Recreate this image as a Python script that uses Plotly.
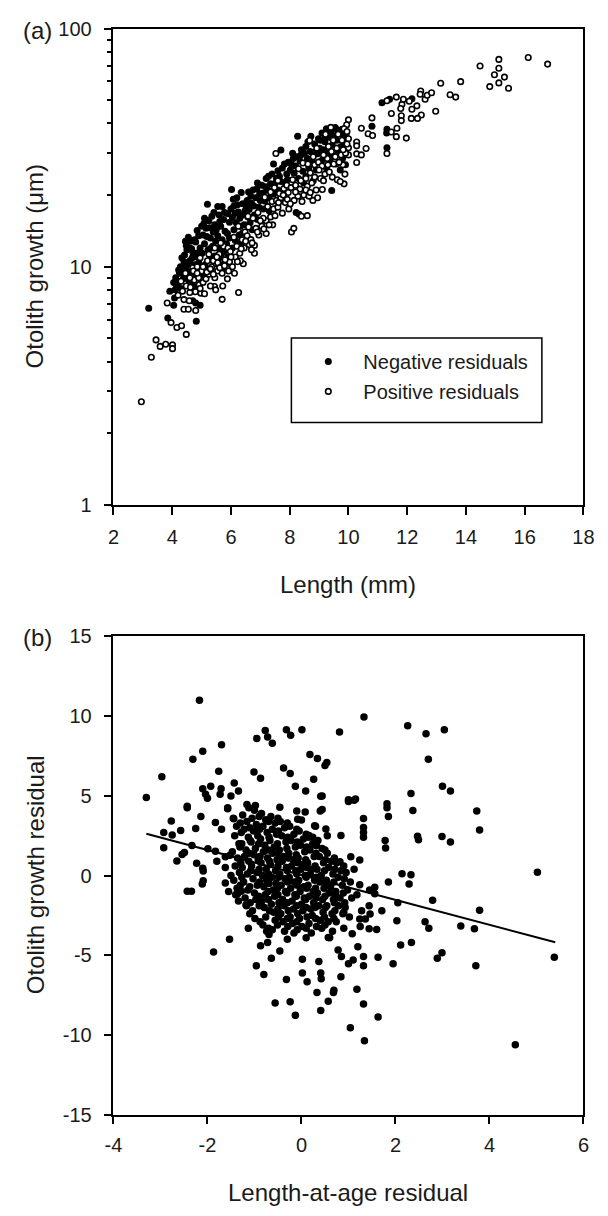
import plotly.graph_objects as go

# ---------------- Panel (a): otolith growth vs length ----------------
neg_points = [
    (3.2, 6.7), (3.85, 6.1), (3.92, 7.9), (4.05, 6.9), (4.08, 7.4), (4.1, 8.0), (4.05, 8.6), (4.12, 9.0),
    (4.2, 8.5), (4.25, 9.4), (4.3, 8.1), (4.35, 9.8), (4.4, 10.5), (4.45, 9.1), (4.15, 8.3), (4.28, 10.0),
    (4.42, 11.2), (4.48, 12.3), (4.38, 8.9), (4.45, 12.8), (4.33, 10.9), (4.22, 9.7), (4.47, 9.9),
    (4.55, 13.3), (4.6, 12.0), (4.7, 11.5), (4.8, 12.7), (4.9, 13.5), (4.6, 10.6), (4.75, 10.2), (4.85, 11.0),
    (4.95, 12.0), (4.65, 9.5), (4.8, 9.3), (4.9, 10.4), (4.58, 8.7), (4.7, 7.2), (4.82, 5.9), (4.95, 6.9),
    (4.8, 7.05), (4.85, 14.2), (5.0, 14.8), (4.72, 8.3), (4.98, 8.8), (4.66, 11.9), (4.88, 8.0),
    (5.2, 18.3), (5.1, 16.0), (5.25, 15.6), (5.35, 16.3), (5.45, 15.0), (5.05, 13.6), (5.15, 14.5), (5.3, 13.2),
    (5.4, 14.0), (5.48, 12.8), (5.1, 12.5), (5.22, 11.8), (5.38, 12.2), (5.02, 11.4), (5.3, 10.8), (5.45, 11.1),
    (5.12, 10.2), (5.2, 9.7), (5.06, 9.1), (5.34, 9.5),
    (5.55, 17.9), (5.7, 17.9), (5.6, 16.5), (5.75, 15.8), (5.9, 16.7), (5.65, 14.8), (5.8, 14.1), (5.95, 15.4),
    (5.55, 13.5), (5.7, 13.0), (5.85, 12.5), (5.6, 12.0), (5.75, 11.5), (5.9, 11.0), (5.58, 10.8), (5.95, 13.2),
    (5.8, 9.9), (5.68, 10.2),
    (6.02, 21.1), (6.2, 19.5), (6.35, 20.5), (6.1, 18.0), (6.25, 17.0), (6.4, 18.4), (6.05, 16.1), (6.18, 15.3),
    (6.3, 16.0), (6.45, 15.0), (6.1, 14.3), (6.28, 13.6), (6.4, 13.9), (6.15, 12.9), (6.35, 12.5), (6.05, 12.0),
    (6.48, 17.2),
    (6.6, 20.6), (6.75, 21.0), (6.9, 22.5), (6.55, 19.0), (6.7, 18.5), (6.85, 19.5), (6.62, 17.4), (6.8, 16.5),
    (6.95, 17.8), (6.65, 15.3), (6.9, 15.8), (6.72, 14.3), (6.98, 20.3),
    (7.05, 22.0), (7.2, 23.5), (7.35, 22.3), (7.1, 20.4), (7.25, 21.0), (7.4, 24.5), (7.15, 18.9), (7.3, 19.5),
    (7.45, 20.2), (7.1, 17.5), (7.3, 17.2), (7.45, 27.0),
    (7.7, 30.9), (7.6, 25.3), (7.75, 26.0), (7.9, 24.5), (7.55, 23.5), (7.7, 22.8), (7.85, 22.5), (7.6, 21.0),
    (7.95, 27.5), (7.8, 20.3),
    (8.27, 35.3), (8.1, 30.0), (8.25, 29.0), (8.4, 31.0), (8.05, 27.0), (8.2, 26.5), (8.35, 27.8), (8.15, 24.7),
    (8.45, 25.2), (8.3, 23.5), (8.22, 16.9), (8.32, 16.6), (8.48, 22.5),
    (8.72, 35.3), (8.55, 32.0), (8.7, 30.5), (8.85, 32.8), (8.6, 28.5), (8.78, 27.5), (8.95, 29.8), (8.65, 26.0),
    (8.9, 25.5), (8.55, 24.0), (8.8, 23.0),
    (9.43, 20.9), (9.1, 36.5), (9.25, 38.0), (9.4, 37.0), (9.05, 34.0), (9.2, 33.5), (9.35, 35.0), (9.15, 31.0),
    (9.3, 30.0), (9.45, 32.5), (9.1, 28.0), (9.38, 27.5), (9.25, 26.0), (9.48, 29.0),
    (9.55, 38.5), (9.7, 36.5), (9.85, 35.5), (9.6, 34.0), (9.75, 32.0), (9.9, 33.0), (9.65, 30.0), (9.8, 28.5),
    (9.58, 27.0), (9.72, 25.5), (9.9, 26.8),
    (10.8, 38.9), (11.31, 37.8), (11.31, 31.6), (11.14, 48.9), (11.4, 50.5), (12.16, 50.8), (11.3, 36.5),
    (4.5, 11.8), (4.62, 12.8), (4.76, 13.0), (4.52, 10.2), (4.68, 10.9), (4.92, 11.5), (4.55, 9.3), (4.78, 11.4),
    (5.08, 15.2), (5.18, 13.4), (5.28, 14.6), (5.42, 16.9), (5.32, 12.0), (5.5, 14.3), (5.62, 15.5), (5.78, 16.9),
    (5.88, 13.8), (5.66, 11.2), (6.0, 17.5), (6.08, 19.2), (6.22, 18.2), (6.15, 16.8), (6.32, 14.8), (6.42, 16.5),
    (6.52, 18.0), (6.68, 19.8), (6.78, 18.0), (6.88, 21.2), (6.58, 16.2), (7.0, 19.0), (7.18, 21.7), (7.28, 24.0),
    (7.38, 20.8), (7.5, 22.4), (7.65, 24.0), (7.82, 27.0), (7.92, 23.2), (8.02, 25.5), (8.12, 28.5), (8.38, 29.5),
    (8.5, 30.0), (8.62, 33.5), (8.88, 30.5), (8.98, 34.5), (9.02, 31.5), (9.18, 34.5), (9.32, 36.8), (9.5, 35.5),
    (9.62, 37.5), (9.78, 37.8), (9.92, 36.0),
]

pos_points = [
    (2.95, 2.71), (3.29, 4.17), (3.45, 4.93), (3.59, 4.63), (3.78, 4.73), (4.01, 4.7), (4.01, 4.53), (3.96, 5.83),
    (4.16, 5.56), (4.32, 5.65), (4.48, 5.2), (3.83, 7.05), (4.4, 6.63), (4.55, 6.63), (4.8, 6.55), (4.4, 7.28),
    (4.58, 7.2), (4.79, 7.85), (5.44, 8.26), (5.7, 7.3), (6.26, 7.8),
    (4.2, 7.6), (4.35, 7.9), (4.48, 8.3), (4.3, 8.7), (4.45, 9.4), (4.6, 7.8), (4.75, 8.8), (4.9, 9.0),
    (5.0, 9.6), (4.7, 9.9), (4.85, 10.0), (4.95, 10.9), (4.62, 8.2), (4.92, 8.4), (4.98, 7.75),
    (5.05, 8.6), (5.15, 8.9), (5.25, 9.3), (5.35, 10.0), (5.45, 9.0), (5.5, 10.3), (5.2, 10.6), (5.4, 10.6),
    (5.1, 7.7), (5.3, 8.3), (5.48, 8.0), (5.25, 11.3), (5.45, 12.0),
    (5.55, 9.6), (5.7, 9.4), (5.85, 9.9), (5.95, 10.5), (5.6, 11.3), (5.75, 12.2), (5.9, 12.0), (5.65, 12.6),
    (5.8, 10.7), (5.98, 11.6), (5.52, 11.0), (5.88, 8.9), (5.72, 8.3),
    (6.05, 10.0), (6.15, 11.0), (6.3, 11.4), (6.42, 10.3), (6.2, 12.2), (6.45, 12.0), (6.1, 13.3), (6.38, 13.0),
    (6.25, 14.8), (6.48, 14.0), (6.12, 9.4), (6.32, 10.6),
    (6.8, 11.4), (6.55, 13.5), (6.68, 13.0), (6.8, 12.3), (6.95, 13.6), (6.6, 14.7), (6.85, 14.5), (6.75, 16.0),
    (6.92, 16.9), (6.58, 16.3), (6.7, 11.8), (6.62, 12.4),
    (7.05, 14.8), (7.2, 15.6), (7.35, 16.2), (7.45, 17.5), (7.1, 16.0), (7.25, 17.9), (7.4, 18.8), (7.15, 19.6),
    (7.35, 20.6), (7.48, 21.5), (7.2, 13.8), (7.42, 15.0),
    (7.53, 29.9), (7.55, 19.0), (7.7, 19.5), (7.85, 18.6), (7.95, 20.5), (7.65, 20.3), (7.8, 21.3), (7.6, 17.8),
    (7.9, 22.0), (7.75, 16.8), (7.97, 17.5), (7.6, 23.0),
    (8.06, 14.0), (8.14, 14.5), (8.4, 16.3), (8.6, 16.4), (8.05, 21.5), (8.2, 22.0), (8.35, 21.2), (8.48, 20.0),
    (8.1, 23.2), (8.3, 25.8), (8.45, 27.3), (8.28, 19.8), (8.42, 18.8), (8.15, 19.0),
    (8.68, 33.9), (8.79, 19.0), (8.66, 19.8), (8.95, 19.5), (8.6, 21.8), (8.75, 22.5), (8.9, 21.0), (8.55, 23.5),
    (8.7, 24.8), (8.85, 26.8), (8.98, 27.5), (8.62, 27.0), (8.8, 29.0), (8.92, 31.5),
    (9.11, 21.1), (9.05, 23.5), (9.2, 24.5), (9.35, 25.0), (9.45, 23.8), (9.1, 26.5), (9.28, 28.5), (9.42, 30.5),
    (9.15, 29.5), (9.32, 32.0), (9.48, 34.0), (9.22, 36.0), (9.4, 38.5),
    (10.0, 41.4), (9.94, 39.5), (9.85, 38.0), (10.0, 34.5), (10.0, 31.6), (10.0, 29.5), (9.81, 26.8), (9.62, 23.2),
    (9.85, 22.3), (9.72, 22.8), (9.6, 31.5), (9.75, 29.5), (9.9, 30.0), (9.65, 36.0), (9.78, 34.0), (9.95, 37.0),
    (9.55, 29.0), (9.88, 24.5),
    (10.44, 38.2), (10.67, 36.2), (10.82, 35.6), (11.46, 36.8), (11.65, 38.2), (11.63, 35.2), (11.97, 34.7),
    (10.28, 33.4), (10.28, 32.2), (10.28, 29.8), (10.44, 29.5), (10.6, 31.4), (10.28, 27.4), (11.31, 29.9),
    (10.8, 42.2), (11.31, 49.8), (11.46, 44.0), (11.63, 51.6), (11.82, 48.1), (11.78, 46.2), (12.16, 45.9),
    (12.33, 47.4), (12.48, 43.4), (12.35, 42.0), (12.14, 42.0), (11.8, 43.1), (11.8, 41.1), (11.87, 50.5),
    (12.07, 49.6), (12.46, 54.7), (12.61, 50.5), (12.44, 53.0), (12.68, 52.5), (12.83, 53.8), (12.97, 45.0),
    (13.14, 59.0), (13.46, 52.8), (13.65, 51.6), (13.82, 59.9), (14.48, 69.7), (14.81, 57.1), (15.12, 59.2),
    (15.31, 62.6), (14.97, 64.0), (15.12, 68.2), (15.12, 74.3), (15.45, 56.2), (16.12, 75.7), (16.78, 71.0),
    (4.6, 9.0), (4.72, 9.6), (4.85, 9.4), (4.95, 8.1), (5.05, 10.0), (5.18, 9.5), (5.3, 9.8), (5.4, 9.3),
    (5.55, 10.4), (5.62, 9.9), (5.78, 10.1), (5.92, 9.6), (6.0, 11.0), (6.22, 10.5), (6.35, 11.9), (6.5, 12.8),
    (6.72, 12.6), (6.9, 14.0), (7.0, 15.6), (7.12, 14.4), (7.3, 15.0), (7.5, 16.4), (7.62, 18.6), (7.78, 20.0),
    (7.92, 19.2), (8.02, 18.4), (8.2, 20.6), (8.38, 23.0), (8.55, 21.0), (8.7, 20.5), (8.85, 23.8), (9.0, 25.5),
    (9.15, 23.0), (9.3, 26.8), (9.5, 27.0), (9.68, 27.5), (9.82, 31.0), (9.95, 32.8),
]

neg_len = [p[0] for p in neg_points]
neg_growth = [p[1] for p in neg_points]
pos_len = [p[0] for p in pos_points]
pos_growth = [p[1] for p in pos_points]

# ---------------- Panel (b): residual vs residual ----------------
resid_points = [
    # sparse upper points
    (-2.17, 11.0), (1.33, 9.95), (2.26, 9.4), (2.65, 8.9), (3.04, 9.15), (2.7, 7.3), (3.0, 5.6), (3.17, 5.3),
    (2.33, 5.15), (0.81, 9.0), (0.01, 9.15), (-0.32, 9.15), (-0.23, 8.8), (-0.77, 9.1), (-0.95, 8.6),
    (-0.72, 8.7), (-0.62, 8.3), (-1.70, 8.2), (-2.1, 7.8), (-2.31, 7.3), (-2.97, 6.2), (-3.30, 4.9),
    (-1.76, 6.55), (-1.01, 6.5), (-0.87, 6.1), (-0.38, 6.75), (-0.24, 6.4), (0.18, 7.6), (0.34, 7.35),
    (0.54, 7.1), (0.5, 6.9), (0.26, 6.05), (-0.13, 5.6), (0.09, 5.3), (0.44, 5.0), (-1.43, 5.8), (-1.34, 5.3),
    (-1.5, 5.0), (-1.71, 5.45), (-1.73, 5.1), (-1.93, 5.6), (-2.1, 5.45), (-2.04, 5.1), (-2.0, 4.85),
    (1.0, 4.65), (1.15, 4.8), (1.82, 4.5),
    # sparse mid / lower points
    (-2.93, 2.71), (-2.75, 2.55), (-2.93, 1.75), (-2.77, 3.43), (-2.43, 4.25), (-2.57, 2.82), (-2.14, 3.7),
    (-2.25, 2.96), (-1.83, 3.33), (-1.57, 4.19), (-1.44, 3.57), (-2.33, 1.89), (-2.54, 1.32), (-2.49, 1.44),
    (-2.65, 0.91), (-2.23, 0.77), (-2.1, 0.46), (-2.09, 0.29), (-2.09, -0.32), (-2.11, -0.53), (-2.43, -0.98),
    (-2.34, -0.98), (-1.99, 1.69), (-1.83, 1.52), (-1.62, 1.18), (-1.52, 1.28), (-1.62, -0.47), (-1.5, 0.0),
    (-1.36, -1.14), (-1.28, -0.98), (-1.53, -3.99), (-1.87, -4.79), (-1.13, -3.3), (-1.18, -1.84),
    (-0.96, -5.66), (-0.8, -6.21), (-0.87, -4.4), (-0.72, -4.2), (-0.64, -5.18), (-0.74, -3.5), (-0.46, -4.73),
    (-0.56, -8.0), (-0.32, -6.52), (-0.24, -7.91), (-0.13, -8.77), (0.02, -6.11), (0.02, -5.25), (0.12, -6.66),
    (0.33, -7.34), (0.41, -8.47), (0.37, -5.39), (0.41, -6.11), (0.42, -6.48), (0.57, -7.89), (0.68, -7.34),
    (0.69, -7.2), (0.84, -6.35), (0.57, -3.89), (0.78, -4.67), (0.85, -5.08), (1.04, -9.55), (1.34, -10.37),
    (1.18, -7.13), (1.32, -8.06), (1.63, -8.88), (1.0, -5.53), (1.1, -5.29), (1.2, -4.47), (1.32, -5.08),
    (1.32, -5.66), (1.08, -3.65), (1.63, -5.12), (1.95, -5.53), (1.44, -3.34), (1.6, -3.38), (2.03, -2.83),
    (1.71, -2.21), (2.11, -4.36), (2.34, -4.2), (2.63, -2.89), (2.71, -3.3), (2.79, -1.55), (2.89, -5.18),
    (2.99, -4.84), (3.39, -3.17), (3.68, -3.34), (3.71, -5.66), (3.79, -2.17), (4.55, -10.62), (5.02, 0.21),
    (5.38, -5.12), (3.73, 4.05), (3.79, 2.86), (2.99, 2.45), (3.17, 2.1), (2.47, 2.47), (2.49, 2.24),
    (2.37, 4.09), (1.85, 3.7), (1.82, 4.25), (1.78, 2.2), (1.79, 1.73), (1.85, -0.4), (2.14, 0.11),
    (2.33, 0.05), (2.29, -0.53), (2.05, -1.7), (1.24, 0.97), (1.05, 1.18), (0.82, 0.87), (0.84, 2.51),
    (1.32, 3.58), (1.32, 3.02), (1.32, 2.71), (1.32, 2.4), (1.56, -0.73), (1.56, -1.14), (1.24, -0.57),
    (1.44, -1.9), (1.28, -2.21), (1.46, -2.41), (1.36, -2.72), (1.24, -2.72), (1.0, 4.76), (1.12, 4.72),
    (0.4, 4.05), (0.44, 4.15), (0.52, 2.92), (0.08, 3.99), (-0.1, 4.05), (-0.08, 3.53), (0.0, 3.49),
    (-0.46, 4.29), (-1.16, 4.46), (-1.12, 4.25), (-0.98, 4.4), (0.28, 3.12), (0.16, 2.51), (0.24, 2.41),
    (0.32, 1.89), (0.41, 4.97), (-2.43, 4.35), (-1.57, 4.25),
    (-1.7, 2.9), (-1.62, 0.5), (-1.55, -1.0), (-1.8, 0.9), (1.12, 0.4), (1.25, -3.2), (1.18, -1.2),
    (1.45, -0.9), (0.9, -3.3), (0.6, -3.9), (0.1, -3.9), (-0.3, -4.0), (0.3, 3.1), (0.55, 2.5), (-1.0, 4.1),
    # dense central cloud
    (-1.45, 3.6), (-1.38, 3.1), (-1.42, 2.5), (-1.33, 2.0), (-1.47, 1.5), (-1.36, 1.1), (-1.41, 0.6),
    (-1.32, 0.2), (-1.44, -0.3), (-1.37, -0.8), (-1.40, -1.2), (-1.34, -1.6),
    (-1.25, 3.8), (-1.16, 3.4), (-1.22, 2.9), (-1.13, 2.4), (-1.27, 2.0), (-1.18, 1.6), (-1.21, 1.2),
    (-1.12, 0.9), (-1.26, 0.5), (-1.15, 0.1), (-1.23, -0.4), (-1.14, -0.9), (-1.2, -1.4), (-1.17, -1.9),
    (-1.05, 3.6), (-0.96, 3.2), (-1.02, 2.8), (-0.93, 2.5), (-1.07, 2.1), (-0.98, 1.7), (-1.01, 1.3),
    (-0.92, 1.0), (-1.06, 0.6), (-0.95, 0.2), (-1.03, -0.2), (-0.94, -0.6), (-1.0, -1.1), (-0.97, -1.5),
    (-1.04, -2.2), (-0.99, -2.7),
    (-0.85, 3.9), (-0.76, 3.5), (-0.82, 3.1), (-0.73, 2.7), (-0.87, 2.3), (-0.78, 1.9), (-0.81, 1.5),
    (-0.72, 1.1), (-0.86, 0.8), (-0.75, 0.4), (-0.83, 0.0), (-0.74, -0.3), (-0.8, -0.7), (-0.77, -1.2),
    (-0.84, -1.6), (-0.79, -2.0), (-0.76, -2.6), (-0.82, -3.1),
    (-0.65, 3.7), (-0.56, 3.3), (-0.62, 2.9), (-0.53, 2.6), (-0.67, 2.2), (-0.58, 1.8), (-0.61, 1.4),
    (-0.52, 1.0), (-0.66, 0.7), (-0.55, 0.3), (-0.63, -0.1), (-0.54, -0.5), (-0.6, -0.9), (-0.57, -1.3),
    (-0.64, -1.8), (-0.59, -2.3), (-0.56, -2.8), (-0.62, -3.4),
    (-0.45, 3.4), (-0.36, 3.0), (-0.42, 2.5), (-0.33, 2.1), (-0.47, 1.6), (-0.38, 1.2), (-0.41, 0.9),
    (-0.32, 0.5), (-0.46, 0.1), (-0.35, -0.2), (-0.43, -0.6), (-0.34, -1.0), (-0.4, -1.5), (-0.37, -1.9),
    (-0.44, -2.4), (-0.39, -2.9), (-0.36, -3.5),
    (-0.25, 3.1), (-0.16, 2.6), (-0.22, 2.2), (-0.13, 1.8), (-0.27, 1.4), (-0.18, 1.0), (-0.21, 0.6),
    (-0.12, 0.3), (-0.26, -0.1), (-0.15, -0.4), (-0.23, -0.8), (-0.14, -1.2), (-0.2, -1.6), (-0.17, -2.1),
    (-0.24, -2.6), (-0.19, -3.0), (-0.16, -3.6),
    (-0.05, 2.8), (0.04, 2.3), (-0.02, 1.9), (0.07, 1.5), (-0.07, 1.1), (0.02, 0.7), (-0.01, 0.4),
    (0.08, 0.0), (-0.06, -0.3), (0.05, -0.7), (-0.03, -1.0), (0.06, -1.4), (0.0, -1.8), (0.03, -2.2),
    (-0.04, -2.7), (0.01, -3.2),
    (0.15, 2.4), (0.24, 2.0), (0.18, 1.6), (0.27, 1.2), (0.13, 0.8), (0.22, 0.4), (0.19, 0.1), (0.28, -0.3),
    (0.14, -0.6), (0.25, -1.0), (0.17, -1.3), (0.26, -1.7), (0.2, -2.1), (0.23, -2.5), (0.16, -3.0),
    (0.21, -3.6),
    (0.35, 2.2), (0.44, 1.7), (0.38, 1.2), (0.47, 0.8), (0.33, 0.4), (0.42, 0.0), (0.39, -0.4), (0.48, -0.8),
    (0.34, -1.1), (0.45, -1.5), (0.37, -1.9), (0.46, -2.3), (0.4, -2.8), (0.43, -3.3),
    (0.55, 1.4), (0.64, 0.9), (0.58, 0.5), (0.67, 0.1), (0.53, -0.3), (0.62, -0.7), (0.59, -1.1),
    (0.68, -1.5), (0.54, -1.9), (0.65, -2.4), (0.57, -2.9), (0.66, -3.5),
    (0.75, 0.8), (0.84, 0.3), (0.78, -0.1), (0.87, -0.6), (0.73, -1.0), (0.82, -1.4), (0.79, -1.9),
    (0.88, -2.4), (0.74, -2.9),
    (0.95, 0.2), (1.04, -0.4), (0.98, -0.9), (1.07, -1.4), (0.93, -2.0), (1.02, -2.6),
    # further fill of the dense cloud
    (-1.3, 3.3), (-1.28, 2.7), (-1.31, 1.8), (-1.29, 0.8), (-1.27, -0.1), (-1.3, -0.6),
    (-1.1, 3.0), (-1.09, 2.2), (-1.11, 1.4), (-1.08, 0.3), (-1.1, -0.7), (-1.09, -1.7), (-1.1, -2.4),
    (-0.9, 3.7), (-0.89, 2.9), (-0.91, 2.0), (-0.88, 1.2), (-0.9, 0.4), (-0.89, -0.4), (-0.91, -1.3),
    (-0.9, -1.9), (-0.88, -2.9),
    (-0.7, 3.4), (-0.69, 2.4), (-0.71, 1.6), (-0.68, 0.9), (-0.7, 0.1), (-0.69, -0.5), (-0.71, -1.0),
    (-0.7, -1.5), (-0.68, -2.2), (-0.7, -3.3), (-0.69, -3.7),
    (-0.5, 3.6), (-0.49, 2.8), (-0.51, 2.0), (-0.48, 1.3), (-0.5, 0.6), (-0.49, -0.1), (-0.51, -0.8),
    (-0.5, -1.2), (-0.48, -1.7), (-0.5, -2.1), (-0.49, -2.6), (-0.51, -3.1),
    (-0.3, 3.3), (-0.29, 2.4), (-0.31, 1.7), (-0.28, 1.1), (-0.3, 0.3), (-0.29, -0.4), (-0.31, -1.1),
    (-0.3, -1.7), (-0.28, -2.2), (-0.3, -2.7), (-0.29, -3.2),
    (-0.1, 2.9), (-0.09, 2.1), (-0.11, 1.3), (-0.08, 0.8), (-0.1, 0.1), (-0.09, -0.6), (-0.11, -1.3),
    (-0.1, -1.9), (-0.08, -2.4), (-0.1, -2.9), (-0.09, -3.4),
    (0.1, 2.6), (0.11, 1.8), (0.09, 1.0), (0.12, 0.5), (0.1, -0.1), (0.11, -0.8), (0.09, -1.5), (0.1, -2.0),
    (0.12, -2.6), (0.1, -3.3),
    (0.3, 1.9), (0.31, 1.4), (0.29, 0.6), (0.32, -0.1), (0.3, -0.8), (0.31, -1.4), (0.29, -2.0), (0.3, -2.7),
    (0.32, -3.2),
    (0.5, 1.6), (0.51, 1.0), (0.49, 0.3), (0.52, -0.5), (0.5, -1.3), (0.51, -2.0), (0.49, -2.6), (0.5, -3.1),
    (0.7, 1.1), (0.71, 0.4), (0.69, -0.4), (0.72, -1.2), (0.7, -1.7), (0.71, -2.2), (0.69, -2.7),
    (0.9, 0.6), (0.91, -0.2), (0.89, -1.1), (0.92, -1.7), (0.9, -2.3),
]
resid_len = [p[0] for p in resid_points]
resid_growth = [p[1] for p in resid_points]

fit_x = [-3.3, 5.4]
fit_y = [2.62, -4.18]

x_ticks_a = [2, 4, 6, 8, 10, 12, 14, 16, 18]
y_ticks_a = [1, 10, 100]
y_minor_a = [2, 3, 4, 5, 6, 7, 8, 9, 20, 30, 40, 50, 60, 70, 80, 90]
x_ticks_b = [-4, -2, 0, 2, 4, 6]
y_ticks_b = [-15, -10, -5, 0, 5, 10, 15]

FONT = "Liberation Sans, Arial, sans-serif"
TXT = "#1a1a1a"
W, H = 608, 1216


def px_x(p):
    return p / W


def px_y(p):
    return 1 - p / H


fig = go.Figure()

fig.add_trace(go.Scatter(
    x=neg_len, y=neg_growth, mode="markers", name="Negative residuals",
    marker=dict(symbol="circle", size=7, color="black", line=dict(width=0)),
    xaxis="x", yaxis="y", legendgroup="n",
))
fig.add_trace(go.Scatter(
    x=pos_len, y=pos_growth, mode="markers", name="Positive residuals",
    marker=dict(symbol="circle", size=5.5, color="white", line=dict(width=1.6, color="black")),
    xaxis="x", yaxis="y", legendgroup="p",
))
fig.add_trace(go.Scatter(
    x=resid_len, y=resid_growth, mode="markers", showlegend=False,
    marker=dict(symbol="circle", size=7.5, color="black", line=dict(width=0)),
    xaxis="x2", yaxis="y2",
))
fig.add_trace(go.Scatter(
    x=fit_x, y=fit_y, mode="lines", showlegend=False,
    line=dict(color="black", width=2),
    xaxis="x2", yaxis="y2",
))

axis_common = dict(
    showline=True, linecolor="black", linewidth=1.5, mirror=True,
    ticks="outside", ticklen=8, tickwidth=1.5, tickcolor="black",
    showgrid=False, zeroline=False,
    tickfont=dict(family=FONT, size=20, color=TXT),
)

xdom = [px_x(108), px_x(594)]
fig.update_layout(
    width=W, height=H,
    margin=dict(l=0, r=0, t=0, b=0),
    paper_bgcolor="white", plot_bgcolor="white",
    font=dict(family=FONT, color=TXT),
    xaxis=dict(domain=xdom, range=[2, 18], tickvals=x_ticks_a, ticktext=[str(v) for v in x_ticks_a],
               anchor="y", ticklabelstandoff=5, **axis_common),
    yaxis=dict(domain=[px_y(503), px_y(18)], type="log", range=[0, 2], tickvals=y_ticks_a,
               ticktext=[str(v) for v in y_ticks_a], anchor="x", ticklabelstandoff=8,
               minor=dict(tickvals=y_minor_a, ticks="outside", ticklen=5, tickwidth=1.5, tickcolor="black"),
               **axis_common),
    xaxis2=dict(domain=xdom, range=[-4, 6], tickvals=x_ticks_b, ticktext=[str(v) for v in x_ticks_b],
                anchor="y2", ticklabelstandoff=4, **axis_common),
    yaxis2=dict(domain=[px_y(1124), px_y(637)], range=[-15, 15], tickvals=y_ticks_b,
                ticktext=[str(v) for v in y_ticks_b], anchor="x2", ticklabelstandoff=8, **axis_common),
    showlegend=True,
    legend=dict(
        x=px_x(294), y=px_y(337), xanchor="left", yanchor="top",
        bgcolor="rgba(0,0,0,0)", borderwidth=0,
        font=dict(family=FONT, size=20, color=TXT),
        itemwidth=60, traceorder="grouped", tracegroupgap=1,
    ),
    shapes=[dict(type="rect", xref="paper", yref="paper",
                 x0=px_x(292), x1=px_x(551), y0=px_y(419), y1=px_y(333),
                 line=dict(color="black", width=1.5), fillcolor="rgba(0,0,0,0)", layer="above")],
    annotations=[
        dict(text="(a)", x=px_x(12), y=px_y(20), xref="paper", yref="paper", xanchor="left", yanchor="middle",
             showarrow=False, font=dict(family=FONT, size=24, color=TXT)),
        dict(text="(b)", x=px_x(12), y=px_y(638), xref="paper", yref="paper", xanchor="left", yanchor="middle",
             showarrow=False, font=dict(family=FONT, size=24, color=TXT)),
        dict(text="Length (mm)", x=px_x(351), y=px_y(584), xref="paper", yref="paper",
             xanchor="center", yanchor="middle", showarrow=False, font=dict(family=FONT, size=24, color=TXT)),
        dict(text="Length-at-age residual", x=px_x(351), y=px_y(1203), xref="paper", yref="paper",
             xanchor="center", yanchor="middle", showarrow=False, font=dict(family=FONT, size=24, color=TXT)),
        dict(text="Otolith growth (\u03bcm)", x=px_x(26), y=px_y(260), xref="paper", yref="paper",
             xanchor="center", yanchor="middle", textangle=-90, showarrow=False,
             font=dict(family=FONT, size=24, color=TXT)),
        dict(text="Otolith growth residual", x=px_x(27), y=px_y(880), xref="paper", yref="paper",
             xanchor="center", yanchor="middle", textangle=-90, showarrow=False,
             font=dict(family=FONT, size=24, color=TXT)),
    ],
)

fig.write_html(
    "out.html",
    post_script="document.body.style.margin='0';document.body.style.overflow='hidden';",
)
